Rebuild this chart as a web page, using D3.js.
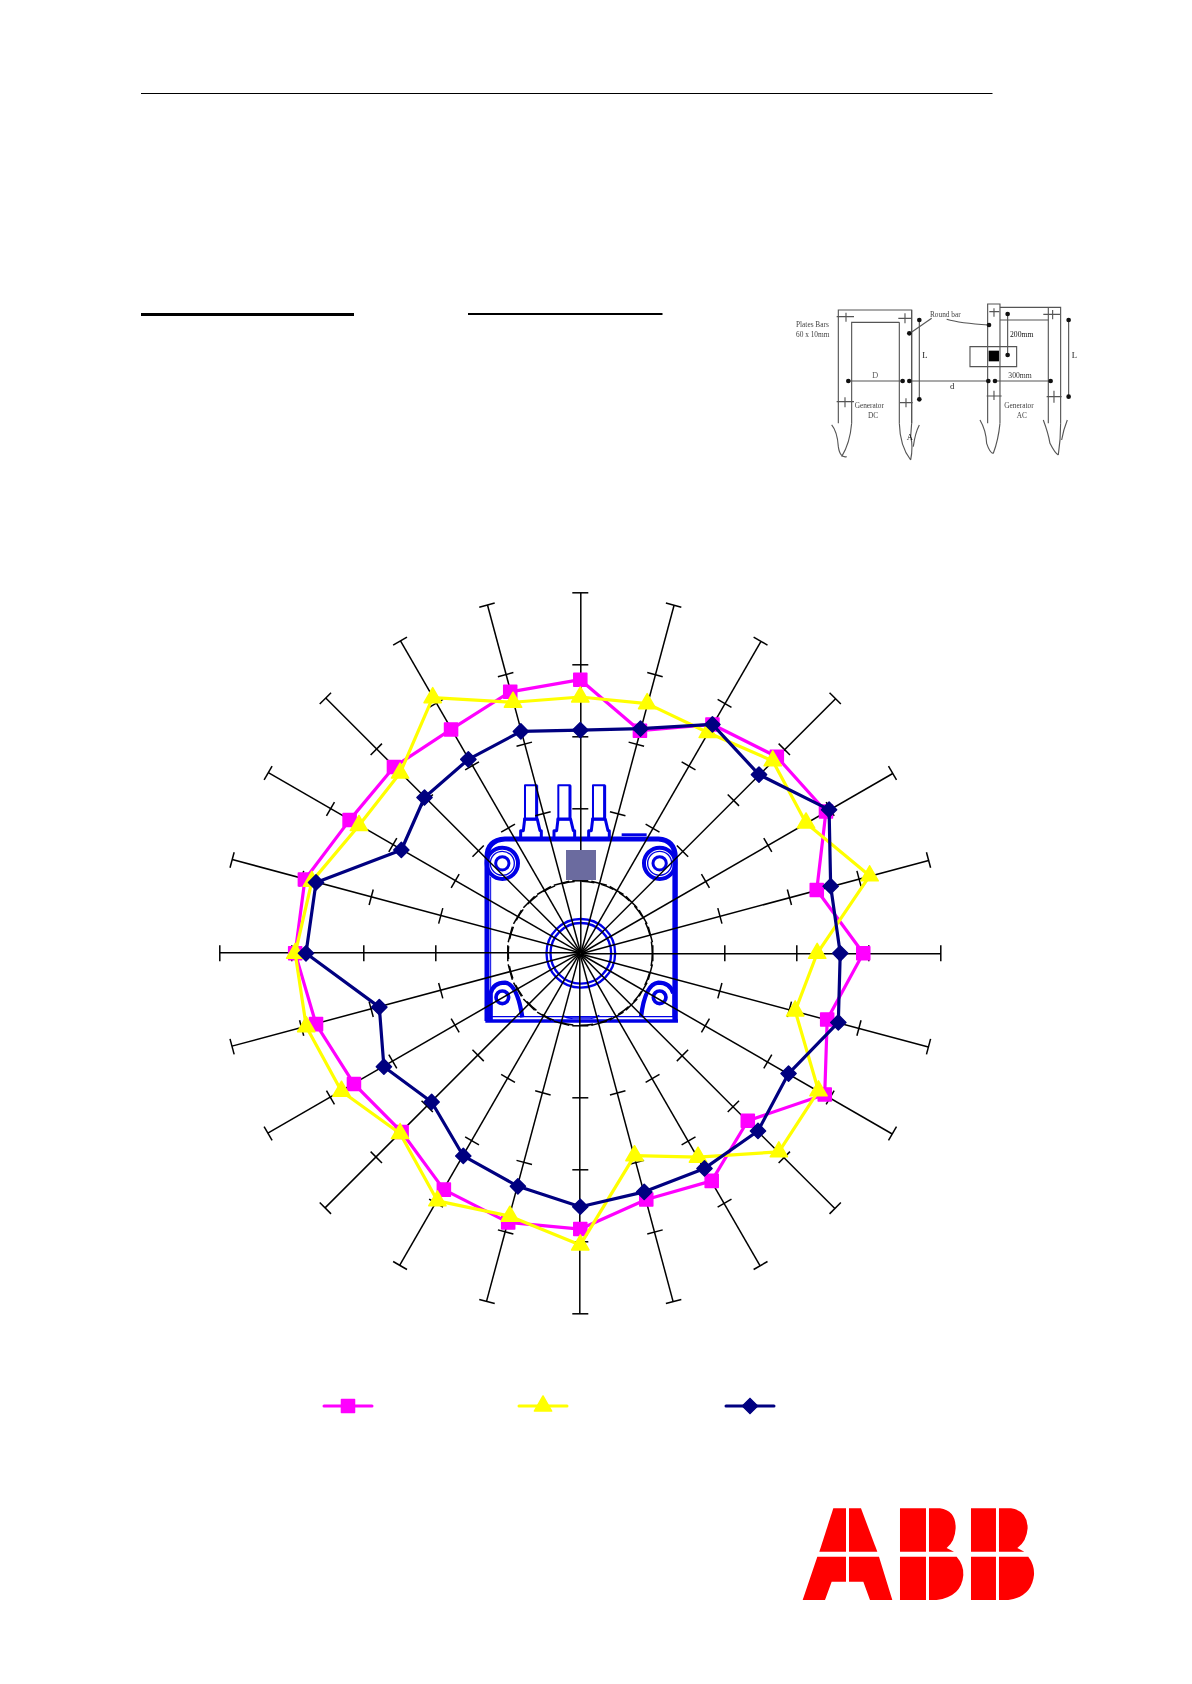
<!DOCTYPE html>
<html>
<head>
<meta charset="utf-8">
<script src="https://cdn.jsdelivr.net/npm/d3@7/dist/d3.min.js"></script>
<style>
html,body{margin:0;padding:0;background:#fff}
svg{display:block}
</style>
</head>
<body>
<svg id="c" width="1192" height="1684" xmlns="http://www.w3.org/2000/svg"></svg>
<script>
// ---------- chart data (one value per 15 degree spoke, clockwise from the top) ----------
const angles = d3.range(0, 360, 15);
const tickValues = [1, 2, 3, 4, 5];
const magentaValues = [3.80,3.20,3.67,3.86,3.94,3.40,3.93,3.55,3.92,3.29,3.65,3.54,3.83,3.87,3.79,3.51,3.63,3.80,3.96,3.96,3.70,3.66,3.59,3.76];
const yellowValues  = [3.56,3.59,3.54,3.78,3.62,4.16,3.29,3.09,3.82,3.90,3.27,2.91,4.05,3.78,3.97,3.54,3.83,3.94,3.96,3.86,3.55,3.54,4.10,3.61];
const navyValues    = [3.10,3.23,3.67,3.51,3.99,3.60,3.61,3.71,3.34,3.49,3.45,3.43,3.52,3.35,3.25,2.92,3.15,2.89,3.81,3.80,2.87,3.06,3.11,3.19];
const seriesColors = ["#ff00ff","#ffff00","#000080"];

const svg = d3.select("#c");
const cx = 580.3, cy = 953.3;
const r = d3.scaleLinear().domain([0,5]).range([0,360]);
const BLUE = "#0000e6";

// ---------- page furniture ----------
const page = svg.append("g");
page.append("line").attr("x1",141).attr("x2",992.5).attr("y1",93.5).attr("y2",93.5).attr("stroke","#000").attr("stroke-width",1);
page.append("line").attr("x1",141).attr("x2",354).attr("y1",314.5).attr("y2",314.5).attr("stroke","#000").attr("stroke-width",3);
page.append("line").attr("x1",468).attr("x2",662.5).attr("y1",314).attr("y2",314).attr("stroke","#000").attr("stroke-width",2.2);

// ---------- blurred inset sketch ----------
const insetWrap = svg.append("g").style("filter","blur(0.75px)");
insetWrap.append("rect").attr("x",780).attr("y",290).attr("width",320).attr("height",190).attr("fill","#fff");
const inset = insetWrap.append("g").attr("transform","translate(780,290) scale(0.3333)");
const gLines = [
 "M175,400V60H395V400","M215,400V97H358","M358,97V400","M395,60V400",
 "M623,400V42H660V400","M660,52H842V400","M805,52V400","M660,90H805",
 "M570,170H710V230H570Z",
 "M155,405Q172,425 175,470Q180,505 200,500M215,400Q210,460 185,500",
 "M358,400Q360,470 392,510M395,400L392,440Q400,470 392,510M418,405Q405,430 400,470",
 "M600,390Q618,420 620,460Q630,490 640,490M660,400Q655,450 640,490",
 "M790,390Q805,430 810,460Q825,490 835,495M842,400Q842,450 835,495M862,390Q850,420 845,450",
 "M170,80H222M198,68V95","M355,85H395M375,70V100","M628,65H658M642,55V80","M790,73H840M818,60V88",
 "M170,335H222M195,322V352","M360,338H398M378,325V352","M620,318H665M642,302V330","M800,320H845M822,302V338",
 "M418,95V325","M866,90V320","M205,273H370","M385,273H625","M640,273H815","M683,72V195",
 "M390,130L455,85","M500,88Q540,100 625,105"
];
inset.selectAll("path.s").data(gLines).join("path").attr("class","s").attr("d",d=>d)
  .attr("fill","none").attr("stroke","#555").attr("stroke-width",3.4);
inset.append("rect").attr("x",626).attr("y",182).attr("width",31).attr("height",32).attr("fill","#000");
const arrows = [[418,90],[418,328],[866,90],[866,320],[205,273],[368,273],[388,273],[625,273],[645,273],[812,273],[683,72],[683,195],[388,130],[627,105]];
inset.selectAll("circle.a").data(arrows).join("circle").attr("class","a").attr("cx",d=>d[0]).attr("cy",d=>d[1]).attr("r",7).attr("fill","#111");
const insetLabels = [["Plates Bars",48,110,"#444",22],["60 x 10mm",48,141,"#444",22],["Round bar",450,80,"#444",22],
 ["200mm",690,141,"#111",23],["300mm",685,263,"#333",23],["D",276,264,"#666",26],["d",510,298,"#222",26],
 ["L",427,205,"#222",26],["L",875,205,"#222",26],["Generator",224,355,"#444",22],["DC",264,385,"#444",22],
 ["Generator",673,355,"#444",22],["AC",710,385,"#444",22],["A",380,450,"#111",26]];
inset.selectAll("text").data(insetLabels).join("text").text(d=>d[0]).attr("x",d=>d[1]).attr("y",d=>d[2])
  .attr("fill",d=>d[3]).attr("font-size",d=>d[4]).attr("font-family","Liberation Serif");

// ---------- motor outline (crop units: 3 per pixel, origin 440,760) ----------
const motor = svg.append("g").attr("transform","translate(440,760) scale(0.3333)")
  .attr("fill","none").attr("stroke",BLUE).attr("stroke-linejoin","round");
const thick = [
 ["M141,783V292Q141,240 195,237H655Q705,240 706,292V783",15],
 ["M136,783H714",10],["M150,770H700",4],
 ["M700,771V300",5],
 ["M152,771V350",3],
 ["M370,768Q385,776 400,774H450Q465,776 478,766",5],
 ["M152,780V700Q160,668 195,668Q232,672 247,772",13],
 ["M700,700Q690,668 655,668Q615,672 603,772",13],["M700,780V700",5]
];
motor.selectAll("path.b").data(thick).join("path").attr("class","b").attr("d",d=>d[0]).attr("stroke-width",d=>d[1]);
[0,100,204].forEach(dx=>{
  const t = motor.append("g").attr("transform",`translate(${dx},0)`);
  t.append("path").attr("d","M255,175V76H290V175").attr("stroke-width",6);
  t.append("path").attr("d","M290,175V76").attr("stroke-width",9);
  t.append("path").attr("d","M242,232V212H250L254,178H292L300,212H304V232").attr("stroke-width",9);
  t.append("path").attr("d","M250,177H294").attr("stroke-width",8);
});
motor.append("path").attr("d","M545,224H620").attr("stroke-width",8);
[187,659].forEach(x=>{
  motor.append("circle").attr("cx",x).attr("cy",310).attr("r",47).attr("stroke-width",12);
  motor.append("circle").attr("cx",x).attr("cy",310).attr("r",36).attr("stroke-width",4);
  motor.append("circle").attr("cx",x).attr("cy",310).attr("r",20).attr("stroke-width",9);
  motor.append("circle").attr("cx",x).attr("cy",712).attr("r",19).attr("stroke-width",11);
});
motor.append("circle").attr("cx",422.5).attr("cy",580).attr("r",103).attr("stroke-width",7);
motor.append("circle").attr("cx",422.5).attr("cy",580).attr("r",91).attr("stroke-width",7);

// ---------- spokes, one axis per angle ----------
const plot = svg.append("g").attr("transform",`translate(${cx},${cy})`);
const axis = d3.axisBottom(r).tickValues(tickValues).tickFormat("").tickSizeOuter(0).tickSizeInner(8);
plot.selectAll("g.spoke").data(angles).join("g").attr("class","spoke")
  .attr("transform",d=>`rotate(${d-90})`)
  .each(function(){
    const g = d3.select(this).call(axis);
    g.select(".domain").attr("stroke","#000").attr("stroke-width",1.5);
    g.selectAll(".tick line").attr("y1",-8).attr("y2",8).attr("stroke","#000").attr("stroke-width",1.5);
  });
plot.append("circle").attr("r",r(1)).attr("fill","none").attr("stroke","#000").attr("stroke-width",1.5).attr("stroke-dasharray","13 7");

// gray block sits on the spokes
svg.append("rect").attr("x",566).attr("y",850).attr("width",30).attr("height",30).attr("fill","#6b6b9f");

// ---------- series ----------
const point = (v,a)=>{ const t=(a-90)*Math.PI/180; return [r(v)*Math.cos(t), r(v)*Math.sin(t)]; };
const radar = d3.line().curve(d3.curveLinearClosed);
const shapes = [
  {sym:d3.symbolSquare, size:170, rot:0},
  {sym:d3.symbolTriangle, size:130, rot:0},
  {sym:d3.symbolSquare, size:115, rot:45}
];
const symbolPath = s => d3.symbol().type(s.sym).size(s.size)();
[magentaValues,yellowValues,navyValues].forEach((vals,i)=>{
  const pts = vals.map((v,k)=>point(v,angles[k]));
  const g = plot.append("g");
  g.append("path").attr("d",radar(pts)).attr("fill","none").attr("stroke",seriesColors[i]).attr("stroke-width",3.2).attr("stroke-linejoin","round");
  g.selectAll("path.m").data(pts).join("path").attr("class","m").attr("d",symbolPath(shapes[i]))
    .attr("fill",seriesColors[i]).attr("stroke",seriesColors[i]).attr("stroke-width",1.5).attr("stroke-linejoin","round")
    .attr("transform",d=>`translate(${d[0]},${d[1]}) rotate(${shapes[i].rot})`);
});

// ---------- legend ----------
const legendX = [348,543,750];
const legend = svg.append("g");
legendX.forEach((x,i)=>{
  legend.append("line").attr("x1",x-24).attr("x2",x+24).attr("y1",1406).attr("y2",1406)
    .attr("stroke",seriesColors[i]).attr("stroke-width",3).attr("stroke-linecap","round");
  legend.append("path").attr("d",symbolPath(shapes[i])).attr("fill",seriesColors[i]).attr("stroke",seriesColors[i]).attr("stroke-width",1.5).attr("stroke-linejoin","round")
    .attr("transform",`translate(${x},1406) rotate(${shapes[i].rot})`);
});

// ---------- logo (crop units: 3 per pixel, origin 780,1480) ----------
const logoPaths = [
 "M160,85H198V215H118Z","M207,85H243L292,215H207Z",
 "M112,230H198V305H155L135,360H68Z","M207,230H297L337,360H270L250,305H207Z",
 "M360,85H438V215H360Z","M447,85H480Q528,92 527,145Q525,185 500,204L522,215H447Z",
 "M360,230H438V360H360Z","M447,230H530Q552,255 550,285Q545,350 470,360H447Z",
 "M573,85H648V215H573Z","M657,85H693Q743,92 743,145Q740,185 712,204L733,215H657Z",
 "M573,230H648V360H573Z","M657,230H745Q764,255 762,285Q755,350 685,360H657Z"
];
svg.append("g").attr("transform","translate(780,1480) scale(0.3333)")
  .selectAll("path").data(logoPaths).join("path").attr("d",d=>d).attr("fill","#ff0000");
</script>
</body>
</html>
